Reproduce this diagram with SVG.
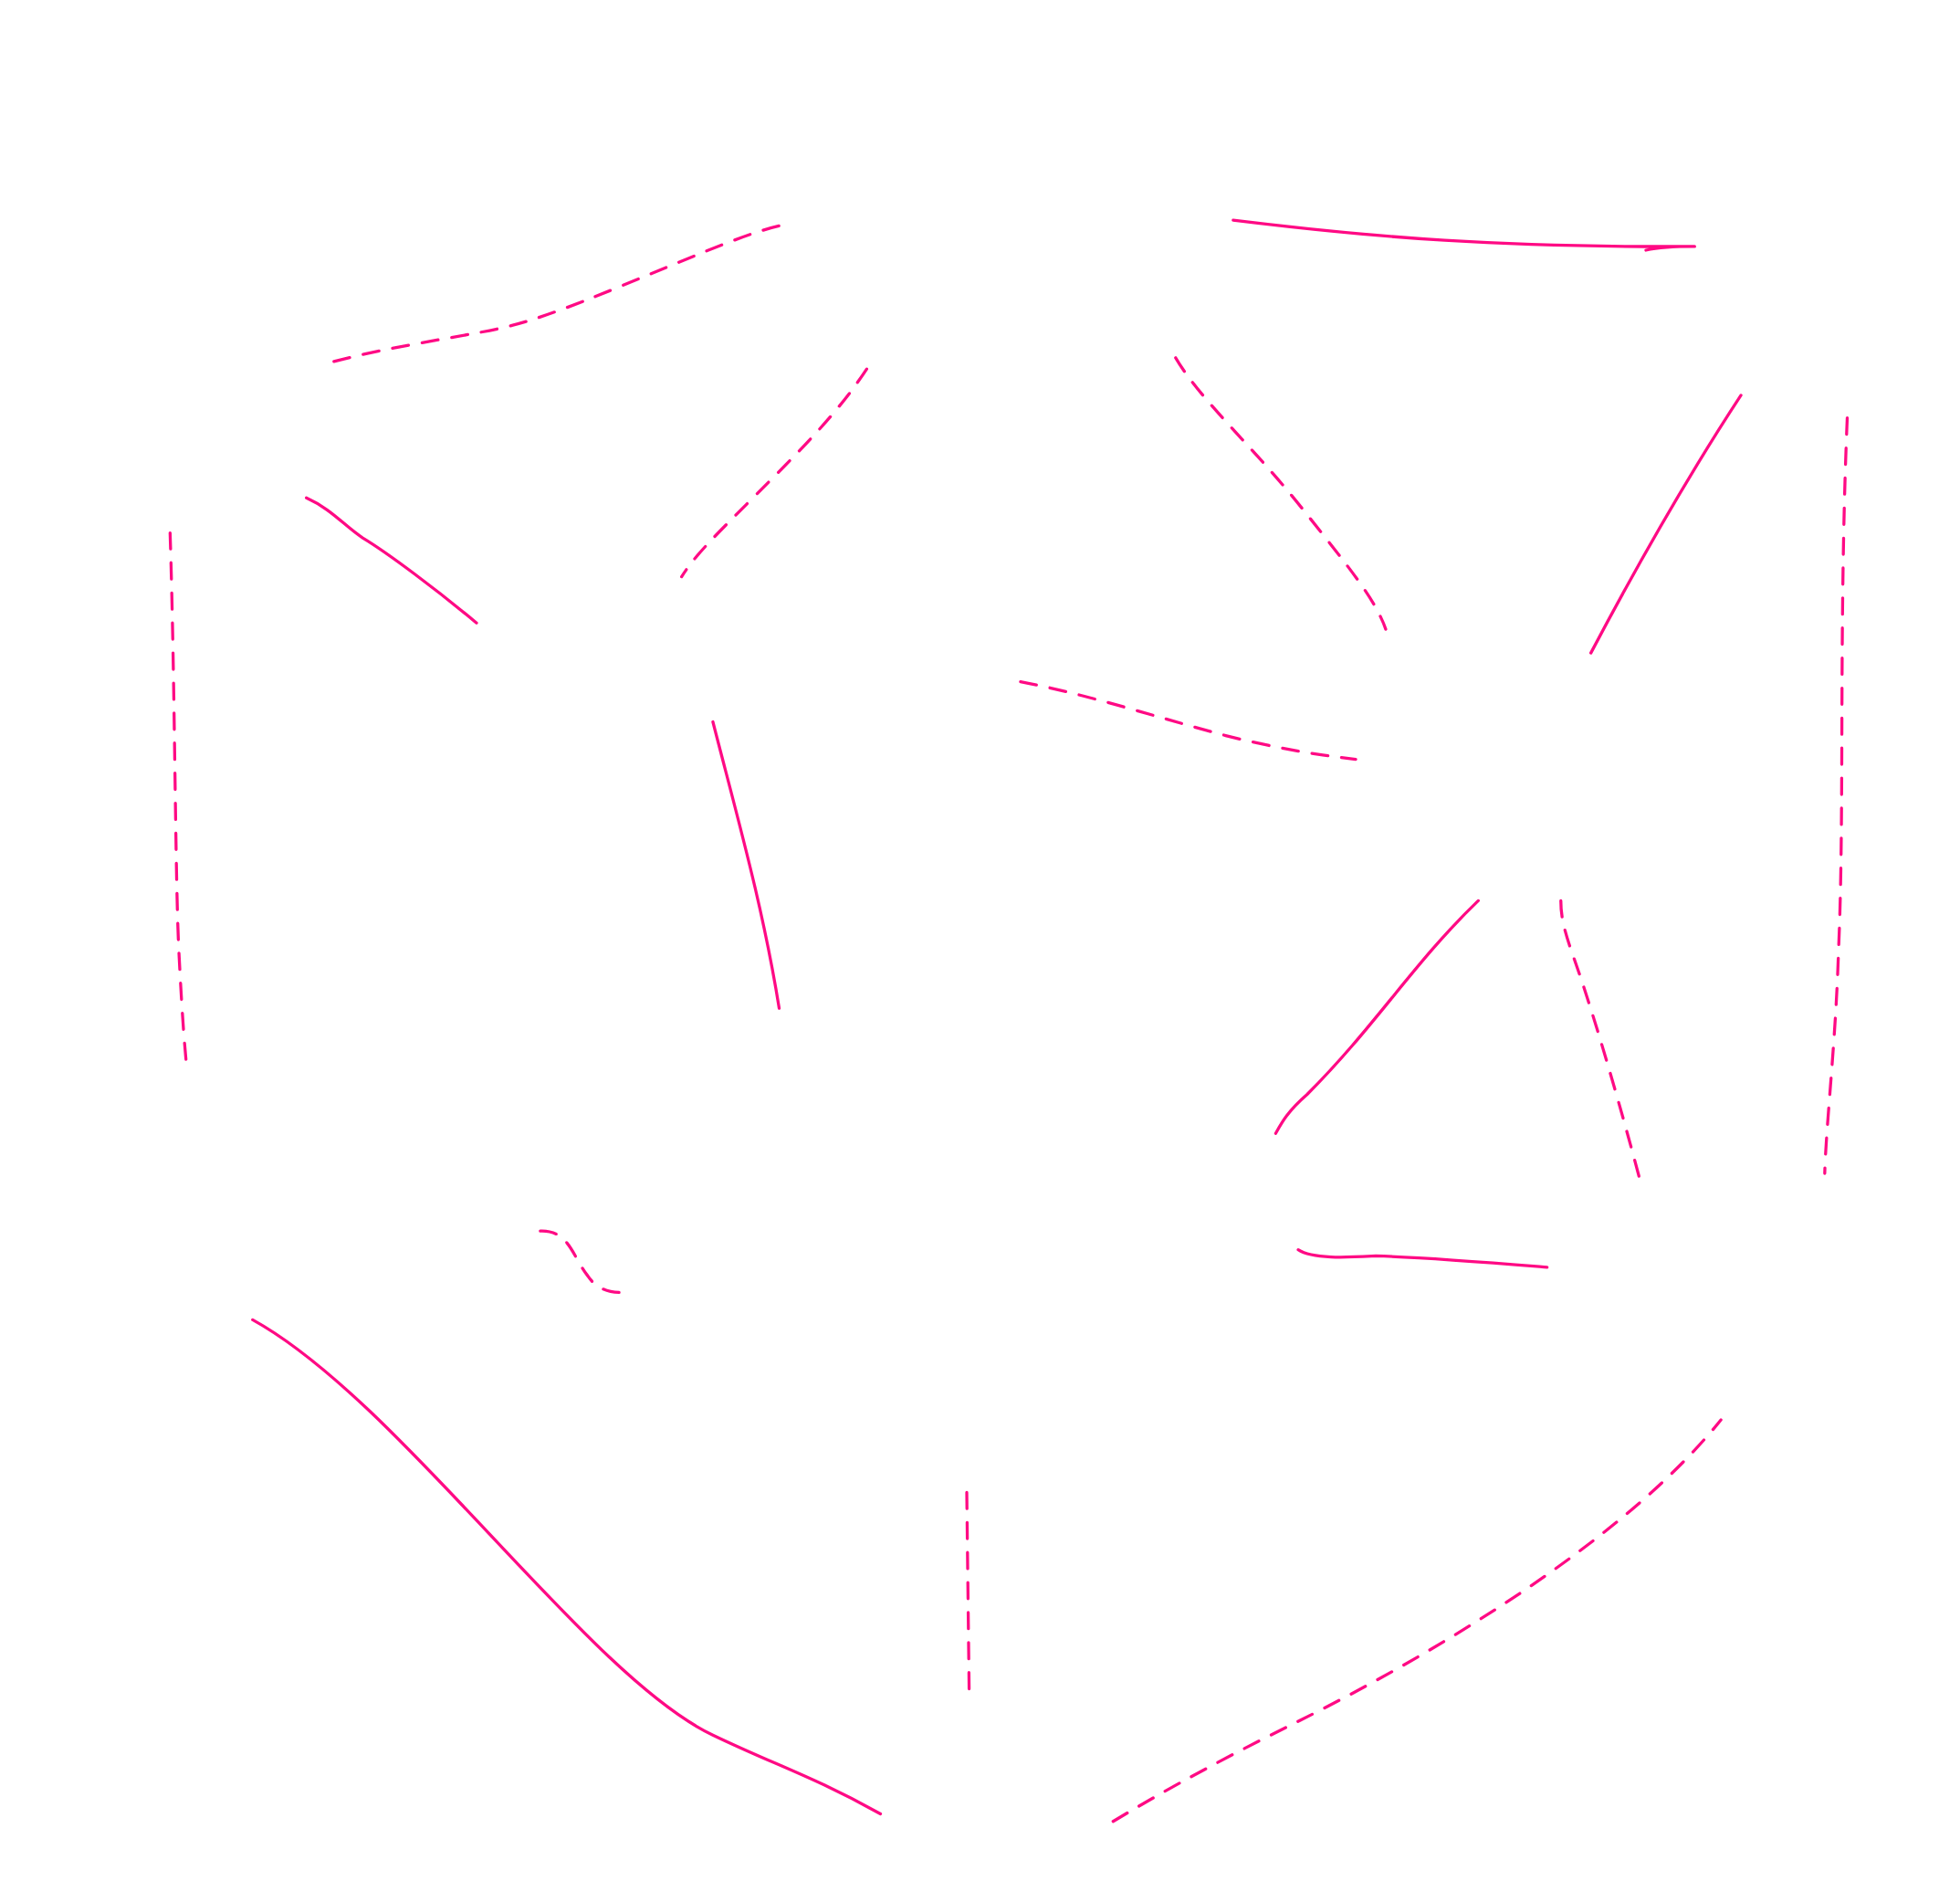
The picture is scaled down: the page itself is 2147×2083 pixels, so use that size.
<svg xmlns="http://www.w3.org/2000/svg" width="2147" height="2083" viewBox="0 0 2147 2083">
<style>
.e{fill:none;stroke:#ff0a84;stroke-width:2.4;stroke-linecap:round}
.d{stroke-dasharray:13 11}
</style>
<rect width="2147" height="2083" fill="#fff"/>
<g id="connectors" transform="scale(1.37)">
<path class="e d" d="M267,289 C320,275 380,268 410,260 C470,245 600,180 633,179"/>
<path class="e" d="M986,176 C1100,190 1200,198 1355,197 M1316,200 C1325,198 1335,197 1355,197"/>
<path class="e d" d="M693,295 C670,330 640,360 600,400 C570,430 555,445 545,461"/>
<path class="e d" d="M940,286 C960,320 1000,355 1040,405 C1080,455 1100,480 1108,503"/>
<path class="e" d="M1392,316 C1350,380 1310,450 1272,522"/>
<path class="e d" d="M1477,334 C1470,500 1475,650 1470,760 C1468,830 1460,900 1459,938"/>
<path class="e" d="M245,398 C265,407 275,420 290,430 C310,442 350,472 381,498"/>
<path class="e d" d="M136,426 C140,550 140,700 143,760 C145,800 147,830 149,850"/>
<path class="e d" d="M816,545 C870,555 930,575 980,588 C1020,598 1050,603 1084,607"/>
<path class="e" d="M570,577 C590,655 610,725 623,806"/>
<path class="e" d="M1182,720 C1130,770 1100,820 1045,875 C1030,888 1025,897 1020,906"/>
<path class="e d" d="M1248,720 C1248,740 1255,755 1265,785 C1280,830 1300,900 1313,950"/>
<path class="e d" d="M432,984 C455,983 458,1005 470,1020 C478,1032 490,1034 502,1033"/>
<path class="e" d="M1038,999 C1050,1007 1080,1005 1100,1004 C1140,1005 1200,1010 1237,1013"/>
<path class="e" d="M202,1055 C320,1120 470,1340 570,1387 C620,1411 650,1420 704,1450"/>
<path class="e d" d="M773,1193 L775,1360"/>
<path class="e d" d="M890,1456 C950,1420 1000,1395 1040,1375 C1150,1320 1300,1230 1376,1135"/>
</g>
</svg>
